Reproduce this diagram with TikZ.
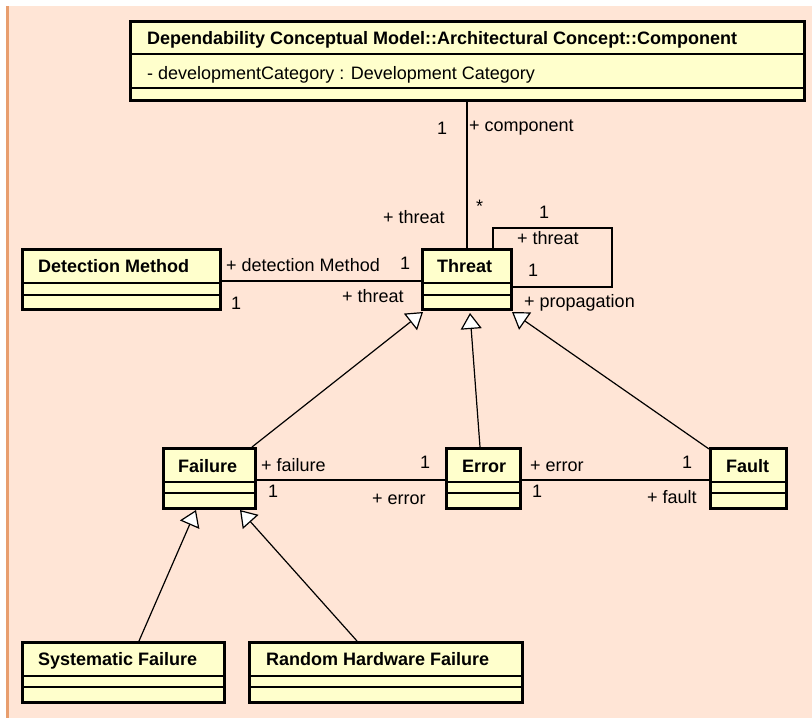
\documentclass[tikz,border=0pt]{standalone}
\usepackage{fontspec}
\setmainfont{Liberation Sans}
\usetikzlibrary{arrows.meta,calc}
\definecolor{bg}{RGB}{255,229,214}
\definecolor{boxfill}{RGB}{255,255,204}
\definecolor{edgecol}{RGB}{232,158,110}
\newcommand{\umlseps}[3]{%
  \draw[sepline] (#1.west |- 0,#2) -- (#1.east |- 0,#2);
  \draw[sepline] (#1.west |- 0,#3) -- (#1.east |- 0,#3);}
\begin{document}
\begin{tikzpicture}[x=1pt,y=-1pt,
  umlbox/.style={draw=black,line width=3pt,fill=boxfill,inner sep=0pt},
  sepline/.style={line width=1.2pt},
  txt/.style={anchor=base west,inner sep=0pt,font=\fontsize{18}{20}\selectfont},
  ttl/.style={anchor=base west,inner sep=0pt,font=\fontsize{18}{20}\selectfont\bfseries},
  assoc/.style={line width=1.2pt},
  gen/.style={line width=1.2pt,-{Triangle[fill=white,length=16pt,width=21pt]}}
]
\useasboundingbox (0,0) rectangle (812,722);
\fill[bg] (8,6) rectangle (812,718);
\fill[edgecol] (6,6) rectangle (8.5,718);

% class boxes
\node[umlbox,minimum width=674pt,minimum height=79pt] (comp) at (467.5,61) {};
\umlseps{comp}{54}{88}
\node[umlbox,minimum width=89pt,minimum height=60pt] (threat) at (467,279.5) {};
\umlseps{threat}{283}{295}
\node[umlbox,minimum width=198pt,minimum height=60pt] (detect) at (121.5,279.5) {};
\umlseps{detect}{283}{295}
\node[umlbox,minimum width=92pt,minimum height=60pt] (failure) at (209.5,478.5) {};
\umlseps{failure}{482}{493}
\node[umlbox,minimum width=74pt,minimum height=60pt] (error) at (483.5,478.5) {};
\umlseps{error}{482}{493}
\node[umlbox,minimum width=76pt,minimum height=60pt] (fault) at (748.5,478.5) {};
\umlseps{fault}{482}{493}
\node[umlbox,minimum width=202pt,minimum height=60pt] (sysf) at (123.5,672.5) {};
\umlseps{sysf}{676}{687}
\node[umlbox,minimum width=273pt,minimum height=60pt] (rhf) at (386,672.5) {};
\umlseps{rhf}{676}{687}

% titles
\node[ttl] (compT) at (147,45) {Dependability Conceptual Model::Architectural Concept::Component};
\node[txt] (compA) at (147,80) {- developmentCategory : Development Category};
\node[ttl] (threatT) at (437,273) {Threat};
\node[ttl] (detectT) at (38,273) {Detection Method};
\node[ttl] (failureT) at (178,472) {Failure};
\node[ttl] (errorT) at (462,472) {Error};
\node[ttl] (faultT) at (726,472) {Fault};
\node[ttl] (sysfT) at (38,665) {Systematic Failure};
\node[ttl] (rhfT) at (266,665) {Random Hardware Failure};

% associations
\draw[assoc] (comp.south -| threat.north) -- (threat.north);
\coordinate (loopc) at (612,228);
\draw[assoc] ([xshift=26pt]threat.north) |- (loopc) |- ([yshift=-7.5pt]threat.east);
\draw[assoc] ([yshift=-1.5pt]detect.east) -- ([yshift=-1.5pt]threat.west);
\draw[assoc] ([yshift=-1.5pt]failure.east) -- ([yshift=-1.5pt]error.west);
\draw[assoc] ([yshift=-1.5pt]error.east) -- ([yshift=-1.5pt]fault.west);

% generalizations
\draw[gen] ([xshift=-5pt]failure.north east) -- ([xshift=2pt,yshift=-1pt]threat.south west);
\draw[gen] ([xshift=-3.5pt]error.north) -- ([xshift=3pt,yshift=-2pt]threat.south);
\draw[gen] ([yshift=-2pt]fault.north west) -- ([xshift=-1pt,yshift=-1pt]threat.south east);
\draw[gen] ([xshift=15.5pt]sysf.north) -- ([xshift=-13.5pt]failure.south);
\draw[gen] ([xshift=-29pt]rhf.north) -- ([xshift=30.5pt]failure.south);

% role and multiplicity labels
\node[txt] (l1) at (437,135) {1};
\node[txt] (l2) at (469,132) {+ component};
\node[txt] (l3) at (476,213) {*};
\node[txt] (l4) at (383,224) {+ threat};
\node[txt] (l5) at (539,219) {1};
\node[txt] (l6) at (517,245) {+ threat};
\node[txt] (l7) at (528,277) {1};
\node[txt] (l8) at (524,308) {+ propagation};
\node[txt] (l9) at (226,272) {+ detection Method};
\node[txt] (l10) at (400,270) {1};
\node[txt] (l11) at (231,309) {1};
\node[txt] (l12) at (342,303) {+ threat};
\node[txt] (l13) at (261,471) {+ failure};
\node[txt] (l14) at (420,468) {1};
\node[txt] (l15) at (268,497) {1};
\node[txt] (l16) at (372,504) {+ error};
\node[txt] (l17) at (530,471) {+ error};
\node[txt] (l18) at (532,497) {1};
\node[txt] (l19) at (682,468) {1};
\node[txt] (l20) at (647,503) {+ fault};
\end{tikzpicture}
\end{document}
